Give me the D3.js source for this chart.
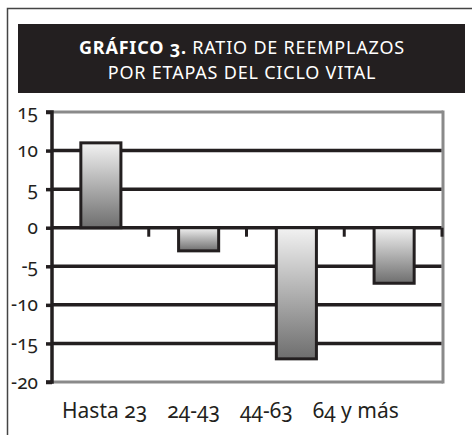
<!DOCTYPE html>
<html><head><meta charset="utf-8">
<script src="https://cdn.jsdelivr.net/npm/d3@7"></script>
<style>
html,body{margin:0;padding:0;background:#fff;}
svg{display:block;font-family:"Noto Sans","Open Sans",sans-serif;font-variant-numeric:oldstyle-nums;}
</style></head>
<body>
<div id="chart"></div>
<script>
const categories = ["Hasta 23", "24-43", "44-63", "64 y más"];
const values = [11.0, -3.0, -17.0, -7.2];
const yTicks = [15, 10, 5, 0, -5, -10, -15, -20];
const titleBold = "GRÁFICO 3.";
const titleRest = " RATIO DE REEMPLAZOS";
const titleLine2 = "POR ETAPAS DEL CICLO VITAL";

const W = 472, H = 435;
const ink = "#231f20";
const svg = d3.select("#chart").append("svg").attr("width", W).attr("height", H);

// outer frame
svg.append("rect").attr("x", 7.5).attr("y", 8.5).attr("width", W + 20).attr("height", H + 20)
  .attr("fill", "none").attr("stroke", "#444").attr("stroke-width", 1.5);

// title box
svg.append("rect").attr("x", 18).attr("y", 24).attr("width", 447).attr("height", 69).attr("fill", ink);
const t1 = svg.append("text").attr("x", 242).attr("y", 54).attr("text-anchor", "middle")
  .attr("fill", "#fff").attr("font-size", 18).attr("letter-spacing", 0.8);
t1.append("tspan").attr("font-weight", "bold").text(titleBold);
t1.append("tspan").text(titleRest);
svg.append("text").attr("x", 242).attr("y", 79).attr("text-anchor", "middle")
  .attr("fill", "#fff").attr("font-size", 18).attr("letter-spacing", 0.8).text(titleLine2);

// scales
const x0 = 52, x1 = 443;
const x = d3.scaleBand().domain(categories).range([x0, x1]).paddingInner(0.59).paddingOuter(0.295);
const y = d3.scaleLinear().domain([-20, 15]).range([382, 112]);

// gradient
const defs = svg.append("defs");
const grad = defs.append("linearGradient").attr("id", "g").attr("x1", 0).attr("y1", 0).attr("x2", 0).attr("y2", 1);
grad.append("stop").attr("offset", "0%").attr("stop-color", "#f2f2f2");
grad.append("stop").attr("offset", "100%").attr("stop-color", "#6e6e6e");

// plot border (gray) at top, right, bottom
svg.append("line").attr("x1", x0).attr("x2", x1).attr("y1", y(15)).attr("y2", y(15)).attr("stroke", "#8a8a8a").attr("stroke-width", 3);
svg.append("line").attr("x1", x0).attr("x2", x1).attr("y1", y(-20)).attr("y2", y(-20)).attr("stroke", "#8a8a8a").attr("stroke-width", 3);
svg.append("line").attr("x1", x1).attr("x2", x1).attr("y1", y(15) - 1.5).attr("y2", y(-20) + 1.5).attr("stroke", "#8a8a8a").attr("stroke-width", 3);

// gridlines
svg.append("g").selectAll("line").data(yTicks.filter(d => d !== 15 && d !== -20)).join("line")
  .attr("x1", x0).attr("x2", x1 - 1.5).attr("y1", d => y(d)).attr("y2", d => y(d))
  .attr("stroke", ink).attr("stroke-width", 3.5);

// x category boundary ticks
const bx = d3.range(1, categories.length + 1).map(i => x0 + i * (x1 - x0) / categories.length);
svg.append("g").selectAll("line").data(bx).join("line")
  .attr("x1", d => d - 1).attr("x2", d => d - 1).attr("y1", y(0)).attr("y2", y(0) + 9)
  .attr("stroke", ink).attr("stroke-width", 3);

// bars
svg.append("g").selectAll("rect").data(values).join("rect")
  .attr("x", (d, i) => x(categories[i]))
  .attr("width", x.bandwidth())
  .attr("y", d => y(Math.max(0, d)))
  .attr("height", d => Math.abs(y(d) - y(0)))
  .attr("fill", "url(#g)").attr("stroke", ink).attr("stroke-width", 3);

// y axis
const yAxis = d3.axisLeft(y).tickValues(yTicks).tickSize(6).tickPadding(8).tickFormat(d => d < 0 ? "-" + Math.abs(d) : String(d));
const ya = svg.append("g").attr("transform", `translate(${x0},0)`).call(yAxis);
ya.select(".domain").attr("stroke", ink).attr("stroke-width", 3.5).attr("d", `M-6,${y(15)}H0V${y(-20)}H-6`);
ya.selectAll(".tick line").attr("stroke", ink).attr("stroke-width", 3.5);
ya.selectAll(".tick text").attr("font-size", 19).attr("fill", ink).attr("font-family", "'Noto Sans','Open Sans',sans-serif");

// x labels laid out as a run of text with gaps
const lg = svg.append("g");
let cx = 62;
categories.forEach(c => {
  const t = lg.append("text").attr("x", cx).attr("y", 418).attr("text-anchor", "start")
    .attr("font-size", 21).attr("fill", ink).text(c);
  cx += t.node().getComputedTextLength() + 20;
});
</script>
</body></html>
